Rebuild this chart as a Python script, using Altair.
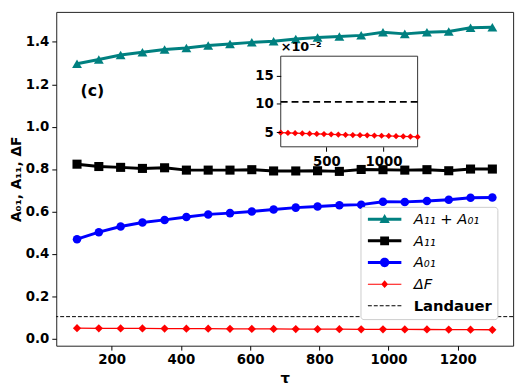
import altair as alt
import pandas as pd

# ---------------- data ----------------
tau = [100, 163, 226, 289, 353, 416, 479, 542, 605, 668,
       732, 795, 858, 921, 984, 1047, 1111, 1174, 1237, 1300]
a_sum = [1.297, 1.317, 1.338, 1.351, 1.364, 1.371, 1.383, 1.390, 1.398, 1.403,
         1.414, 1.421, 1.426, 1.431, 1.446, 1.438, 1.446, 1.449, 1.467, 1.469]
a11 = [0.823, 0.812, 0.808, 0.803, 0.806, 0.795, 0.795, 0.795, 0.797, 0.791,
       0.791, 0.792, 0.789, 0.798, 0.797, 0.795, 0.797, 0.792, 0.800, 0.800]
a01 = [0.469, 0.502, 0.529, 0.548, 0.560, 0.574, 0.586, 0.592, 0.600, 0.609,
       0.618, 0.623, 0.629, 0.632, 0.646, 0.645, 0.649, 0.655, 0.665, 0.666]
dF = [0.0490, 0.0485, 0.0480, 0.0476, 0.0472, 0.0468, 0.0464, 0.0460, 0.0456, 0.0452,
      0.0448, 0.0445, 0.0442, 0.0438, 0.0435, 0.0431, 0.0428, 0.0424, 0.0420, 0.0415]
landauer = [0.1035]

x_ticks = [200, 400, 600, 800, 1000, 1200]
y_ticks = [0.0, 0.2, 0.4, 0.6, 0.8, 1.0, 1.2, 1.4]
inset_x_ticks = [500, 1000]
inset_y_ticks = [5, 10, 15]
inset_scale_factor = 100  # inset shows values in units of 1e-2

panel_label = ["(c)"]
panel_label_x = [110]
panel_label_y = [1.17]

legend_entries = ["A₁₁ + A₀₁", "A₁₁", "A₀₁", "ΔF", "Landauer"]
legend_colors = ["#008080", "#000000", "#0000ff", "#ff0000", "#000000"]

# ---------------- layout / styling ----------------
W, H = 464, 339
X_DOM = [40, 1360]
Y_DOM = [-0.0337, 1.5417]
INSET_X = [100, 1300]
INSET_Y = [2.4, 18.4]
INSET_XR = [228, 367]
INSET_YR = [137, 45]
FONT = "DejaVu Sans"

# legend handle paths (line + marker), unit coords for symbolSize=100 (5 px/unit)
thick = "M-1,-0.3H5.8V0.3H-1Z"
thin = "M-1,-0.1H5.8V0.1H-1Z"
legend_paths = [
    thick + "M2.4,-1.05L3.45,0.8L1.35,0.8Z",
    thick + "M1.5,-0.9H3.3V0.9H1.5Z",
    thick + "M1.45,0A0.95,0.95 0 1,1 3.35,0A0.95,0.95 0 1,1 1.45,0Z",
    thin + "M2.4,-0.8L3.1,0L2.4,0.8L1.7,0Z",
    "M-1,-0.1H-0.2V0.1H-1Z M0.2,-0.1H1V0.1H0.2Z M1.4,-0.1H2.2V0.1H1.4Z "
    "M2.6,-0.1H3.4V0.1H2.6Z M3.8,-0.1H4.6V0.1H3.8Z M5,-0.1H5.8V0.1H5Z",
]

xs = alt.Scale(domain=X_DOM, nice=False, zero=False)
ys = alt.Scale(domain=Y_DOM, nice=False, zero=False)
x_axis = alt.Axis(values=x_ticks, title="τ", grid=False, domain=False, format="d",
                  labelFlush=False, titlePadding=4)
y_axis = alt.Axis(values=y_ticks, title="A₀₁, A₁₁, ΔF", grid=False, domain=False,
                  format=".1f", titlePadding=2, titleFontSize=14)
X = alt.X("tau:Q", scale=xs, axis=x_axis)
Y = alt.Y("v:Q", scale=ys, axis=y_axis)

series = [
    (a_sum, "#008080", "triangle-up", 100, 3),
    (a11, "#000000", "square", 85, 3),
    (a01, "#0000ff", "circle", 75, 3),
    (dF, "#ff0000", "diamond", 70, 1.3),
]

main_layers = []
# Landauer line
main_layers.append(
    alt.Chart(pd.DataFrame({"v": landauer}))
    .mark_rule(color="black", strokeWidth=1, strokeDash=[4, 2])
    .encode(y=Y)
)
for vals, col, shp, sz, lw in series:
    d = pd.DataFrame({"tau": tau, "v": vals})
    main_layers.append(alt.Chart(d).mark_line(color=col, strokeWidth=lw).encode(x=X, y=Y))
    main_layers.append(
        alt.Chart(d).mark_point(shape=shp, filled=True, color=col, size=sz, opacity=1)
        .encode(x=X, y=Y)
    )
# panel label
main_layers.append(
    alt.Chart(pd.DataFrame({"tau": panel_label_x, "v": panel_label_y, "t": panel_label}))
    .mark_text(font=FONT, fontWeight="bold", fontSize=16, align="left", baseline="middle")
    .encode(x=X, y=Y, text="t:N")
)
# legend (from explicit scale domains, no marks drawn)
leg = alt.Legend(
    title=None, orient="none", legendX=309, legendY=198,
    fillColor="white", strokeColor="#cccccc", cornerRadius=3, padding=5,
    symbolSize=100, symbolStrokeWidth=0, symbolOpacity=1, labelOffset=34,
    labelFont=FONT, labelFontSize=15, labelColor="black", rowPadding=6,
    labelFontStyle={"expr": "datum.label == 'Landauer' ? 'normal' : 'italic'"},
    labelFontWeight={"expr": "datum.label == 'Landauer' ? 'bold' : 'normal'"},
)
main_layers.append(
    alt.Chart(pd.DataFrame({"entry": legend_entries}))
    .transform_filter("false")
    .mark_point(filled=True)
    .encode(
        color=alt.Color("entry:N", scale=alt.Scale(domain=legend_entries, range=legend_colors), legend=leg),
        shape=alt.Shape("entry:N", scale=alt.Scale(domain=legend_entries, range=legend_paths), legend=leg),
    )
)
main = alt.layer(*main_layers)

# ---------------- inset ----------------
ixs = alt.Scale(domain=INSET_X, range=INSET_XR, nice=False, zero=False)
iys = alt.Scale(domain=INSET_Y, range=INSET_YR, nice=False, zero=False)
ix_axis = alt.Axis(orient="bottom", offset=-(H - INSET_YR[0]), values=inset_x_ticks,
                   format="d", title=None, grid=False, domain=False, zindex=1)
iy_axis = alt.Axis(orient="left", offset=-INSET_XR[0], values=inset_y_ticks,
                   title=None, grid=False, domain=False, zindex=1)
IX = alt.X("tau:Q", scale=ixs, axis=ix_axis)
IY = alt.Y("v:Q", scale=iys, axis=iy_axis)

frame = alt.Chart(pd.DataFrame({"tau": [INSET_X[0]], "t2": [INSET_X[1]],
                                "v": [INSET_Y[0]], "v2": [INSET_Y[1]]})).mark_rect(
    fill="white", stroke="#333333", strokeWidth=1
).encode(x=IX, x2="t2:Q", y=IY, y2="v2:Q")

idf = pd.DataFrame({"tau": tau, "v": [d * inset_scale_factor for d in dF]})
irule = alt.Chart(pd.DataFrame({"tau": [INSET_X[0]], "t2": [INSET_X[1]],
                                "v": [landauer[0] * inset_scale_factor]})).mark_rule(
    color="black", strokeWidth=1.8, strokeDash=[7, 4]
).encode(x=IX, x2="t2:Q", y=IY)
iline = alt.Chart(idf).mark_line(color="#ff0000", strokeWidth=1.2).encode(x=IX, y=IY)
ipts = alt.Chart(idf).mark_point(shape="diamond", filled=True, color="#ff0000", size=40, opacity=1).encode(x=IX, y=IY)
itext = alt.Chart(pd.DataFrame({"tau": [INSET_X[0]], "v": [INSET_Y[1]], "t": ["×10⁻²"]})).mark_text(
    font=FONT, fontWeight="bold", fontSize=13, align="left", baseline="bottom", dy=-2
).encode(x=IX, y=IY, text="t:N")
inset = alt.layer(frame, irule, iline, ipts, itext)

chart = (
    alt.layer(main, inset)
    .resolve_scale(x="independent", y="independent")
    .properties(
        width=W, height=H,
        autosize=alt.AutoSizeParams(type="none"),
        padding={"left": 49, "top": 1, "right": 8, "bottom": 40},
    )
    .configure_view(stroke="#222222", strokeWidth=1)
    .configure_axis(
        labelFont=FONT, labelFontWeight="bold", labelFontSize=13.5, labelColor="black",
        titleFont=FONT, titleFontWeight="bold", titleFontSize=15, titleColor="black",
        tickColor="black", tickSize=4.5, tickWidth=1, labelPadding=3,
    )
)

chart.save("out.html", embed_options={"renderer": "svg", "actions": False})
